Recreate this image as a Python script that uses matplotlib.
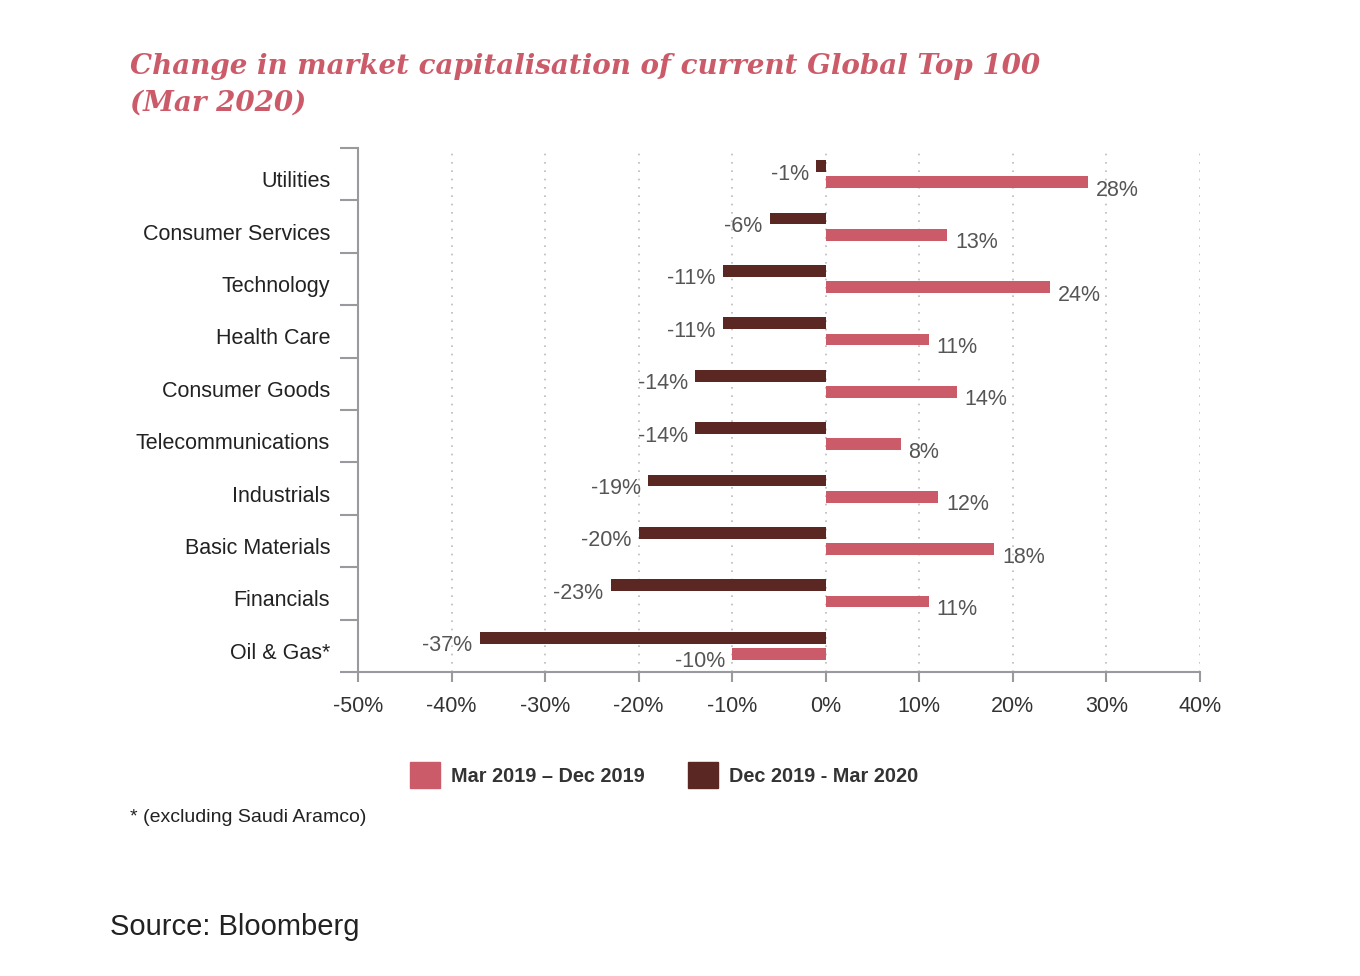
import matplotlib.pyplot as plt
import matplotlib.transforms as mtransforms
from matplotlib.patches import Patch
import numpy as np

# DATA
sectors = ["Utilities", "Consumer Services", "Technology", "Health Care", "Consumer Goods",
           "Telecommunications", "Industrials", "Basic Materials", "Financials", "Oil & Gas*"]
mar19_dec19 = [28, 13, 24, 11, 14, 8, 12, 18, 11, -10]
dec19_mar20 = [-1, -6, -11, -11, -14, -14, -19, -20, -23, -37]
xticks = [-50, -40, -30, -20, -10, 0, 10, 20, 30, 40]

pink = "#CC5B6A"
dark = "#5A2722"
spine_col = "#9A9A9E"

plt.rcParams["font.family"] = ["Liberation Sans", "DejaVu Sans"]

fig = plt.figure(figsize=(13.6, 9.76), dpi=100)
ax = fig.add_axes([358/1360, 1-672/976, (1200-358)/1360, (672-148)/976])

y = np.arange(len(sectors)) + 0.5
h = 0.225
off = 0.153
ax.barh(y - off, dec19_mar20, height=h, color=dark, zorder=3)
ax.barh(y + off, mar19_dec19, height=h, color=pink, zorder=3)

# value labels
for yi, v in zip(y, dec19_mar20):
    ax.annotate(f"{v}%", (v, yi - off), xytext=(-7, -8), textcoords="offset pixels",
                ha="right", va="center", fontsize=15.5, color="#555555")
for yi, v in zip(y, mar19_dec19):
    if v >= 0:
        ax.annotate(f"{v}%", (v, yi + off), xytext=(8, -8), textcoords="offset pixels",
                    ha="left", va="center", fontsize=15.5, color="#555555")
    else:
        ax.annotate(f"{v}%", (v, yi + off), xytext=(-7, -8), textcoords="offset pixels",
                    ha="right", va="center", fontsize=15.5, color="#555555")

ax.set_xlim(-50, 40)
ax.set_ylim(len(sectors), 0)

ax.set_xticks(xticks)
ax.set_xticklabels([f"{t}%" for t in xticks], fontsize=15.5, color="#333333")
ax.set_yticks(np.arange(len(sectors) + 1))
ax.set_yticklabels([])
ax.set_yticks(y, minor=True)
ax.set_yticklabels(sectors, minor=True, fontsize=15.5, color="#222222")
ax.tick_params(axis="y", which="major", length=13, width=1.5, color=spine_col)
ax.tick_params(axis="y", which="minor", length=0, pad=20)
ax.tick_params(axis="x", length=7, width=1.5, color=spine_col, pad=10)

# nudge category labels a little down, as in the original
shift = mtransforms.ScaledTranslation(0, -5/100, fig.dpi_scale_trans)
for lab in ax.get_yticklabels(minor=True):
    lab.set_transform(lab.get_transform() + shift)

for t in xticks[1:]:
    ax.axvline(t, color="#BBBBBB", linestyle=(0, (1, 4)), linewidth=1.2, zorder=1)

for s in ["top", "right"]:
    ax.spines[s].set_visible(False)
for s in ["left", "bottom"]:
    ax.spines[s].set_color(spine_col)
    ax.spines[s].set_linewidth(1.5)

fig.text(130/1360, 1-85/976, "Change in market capitalisation of current Global Top 100\n(Mar 2020)",
         family=["DejaVu Serif"], fontsize=20, fontweight="bold", style="italic",
         color=pink, va="center", ha="left", linespacing=1.45)

handles = [Patch(color=pink, label="Mar 2019 – Dec 2019"),
           Patch(color=dark, label="Dec 2019 - Mar 2020")]
leg = fig.legend(handles=handles, loc="center", bbox_to_anchor=(664/1360, 1-775/976), ncol=2,
                 frameon=False, prop={"size": 14.3, "weight": "bold"}, handlelength=1.5,
                 handleheight=1.6, columnspacing=2.2, handletextpad=0.55)
for t in leg.get_texts():
    t.set_color("#333333")

fig.text(130/1360, 1-818/976, "* (excluding Saudi Aramco)", fontsize=14, color="#222222", va="center")
fig.text(110/1360, 1-927/976, "Source: Bloomberg", fontsize=21, color="#222222", va="center")

fig.savefig("out.png", dpi=100)
